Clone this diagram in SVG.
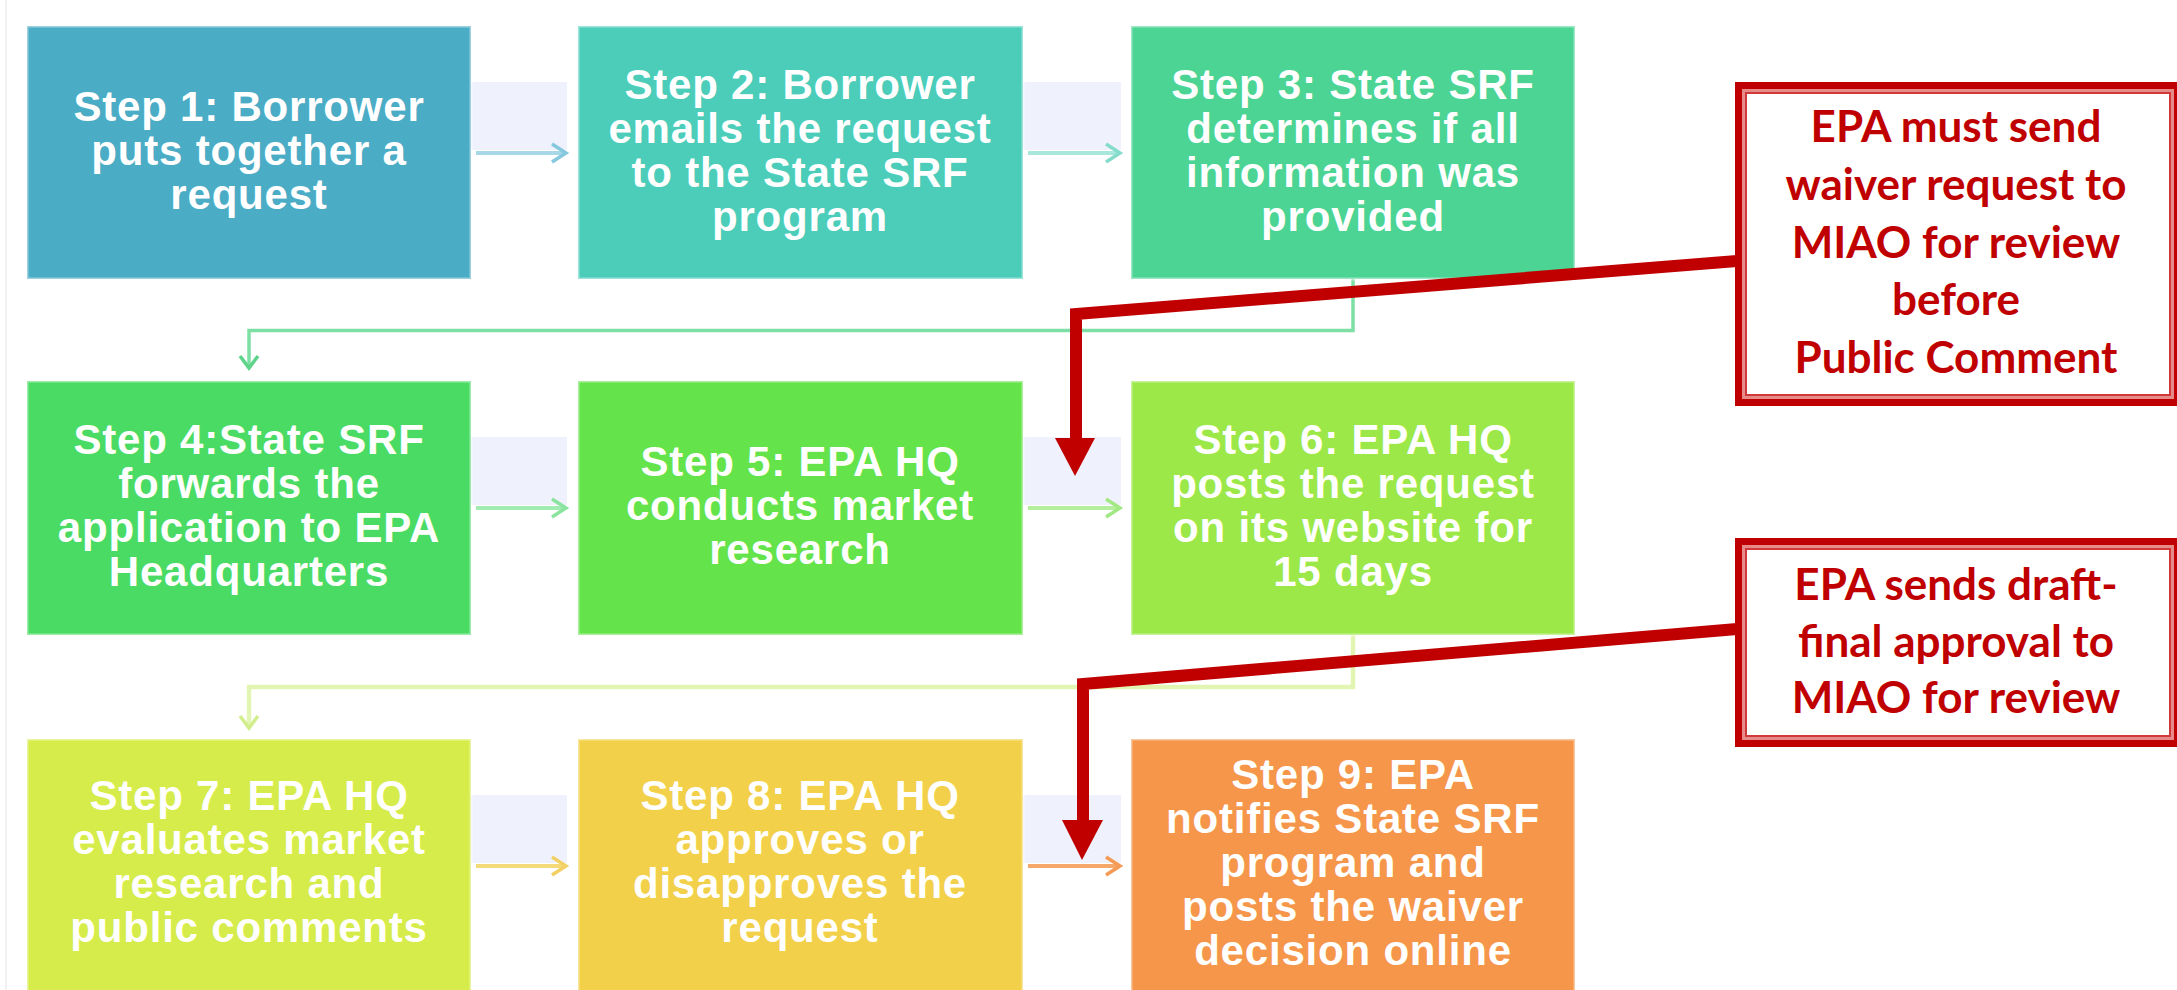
<svg xmlns="http://www.w3.org/2000/svg" width="2177" height="990" viewBox="0 0 2177 990">
<style>
.box{stroke:rgba(255,255,255,0.45);stroke-width:3}
.st{font-family:"Liberation Sans",Arial,sans-serif;font-weight:bold;font-size:42px;letter-spacing:0.8px;fill:#ffffff;text-anchor:middle}
.lav{fill:#EFF2FD}
.ln{fill:none;stroke-width:4;stroke-linecap:butt}
.chev{fill:none;stroke-width:3.5;stroke-linejoin:miter}
.el{fill:none;stroke-linejoin:miter}
.rb1{fill:#ffffff;stroke:#C00000;stroke-width:7}
.rb2{fill:none;stroke:#E68A8A;stroke-width:3}
.rb3{fill:none;stroke:#D03A3A;stroke-width:2}
.rt{font-family:Lato,"Open Sans","Liberation Sans",sans-serif;font-weight:bold;font-size:44px;fill:#C00000;text-anchor:middle}
.rl{fill:none;stroke:#C00000;stroke-width:12;stroke-linejoin:miter}
.rh{fill:#C00000}
</style>
<line x1="6" y1="0" x2="6" y2="990" stroke="#EEEEEE" stroke-width="1.5"/>
<g id="connectors">
  <rect class="lav" x="471" y="82" width="96" height="68"/>
  <rect class="lav" x="1023" y="82" width="98" height="68"/>
  <rect class="lav" x="471" y="437" width="96" height="68"/>
  <rect class="lav" x="1023" y="437" width="98" height="68"/>
  <rect class="lav" x="471" y="795" width="96" height="68"/>
  <rect class="lav" x="1023" y="795" width="98" height="68"/>
  <line class="ln" x1="476" y1="153" x2="566" y2="153" stroke="#A8D8E8"/>
  <path class="chev" d="M552,144 L566,153 L552,162" stroke="#86C8DE"/>
  <line class="ln" x1="1028" y1="153" x2="1120" y2="153" stroke="#A8E8DC"/>
  <path class="chev" d="M1106,144 L1120,153 L1106,162" stroke="#86DCCB"/>
  <line class="ln" x1="476" y1="508" x2="566" y2="508" stroke="#A2EBB2"/>
  <path class="chev" d="M552,499 L566,508 L552,517" stroke="#8AE39E"/>
  <line class="ln" x1="1028" y1="508" x2="1120" y2="508" stroke="#B5EE9C"/>
  <path class="chev" d="M1106,499 L1120,508 L1106,517" stroke="#A2E884"/>
  <line class="ln" x1="476" y1="866" x2="566" y2="866" stroke="#F5DA7A"/>
  <path class="chev" d="M552,857 L566,866 L552,875" stroke="#F2D064"/>
  <line class="ln" x1="1028" y1="866" x2="1120" y2="866" stroke="#F6A86A"/>
  <path class="chev" d="M1106,857 L1120,866 L1106,875" stroke="#F59A55"/>
  <path class="el" d="M1353,279 V330.5 H249 V367" stroke="#7EDFA4" stroke-width="3.5"/>
  <path class="chev" d="M240,356 L249,368 L258,356" stroke="#5ED48A"/>
  <path class="el" d="M1353,635 V687 H249 V727" stroke="#E2F5B2" stroke-width="4.5"/>
  <path class="chev" d="M240,716 L249,728 L258,716" stroke="#D2EE8C"/>
</g>
<g id="step1"><rect class="box" x="27" y="26" width="444" height="253" fill="#4BACC6"/>
  <text class="st" x="249" y="121">Step 1: Borrower</text><text class="st" x="249" y="165">puts together a</text><text class="st" x="249" y="209">request</text></g>
<g id="step2"><rect class="box" x="578" y="26" width="445" height="253" fill="#4BCDBA"/>
  <text class="st" x="800" y="99">Step 2: Borrower</text><text class="st" x="800" y="143">emails the request</text><text class="st" x="800" y="187">to the State SRF</text><text class="st" x="800" y="231">program</text></g>
<g id="step3"><rect class="box" x="1131" y="26" width="444" height="253" fill="#4BD494"/>
  <text class="st" x="1353" y="99">Step 3: State SRF</text><text class="st" x="1353" y="143">determines if all</text><text class="st" x="1353" y="187">information was</text><text class="st" x="1353" y="231">provided</text></g>
<g id="step4"><rect class="box" x="27" y="381" width="444" height="254" fill="#4ADB64"/>
  <text class="st" x="249" y="454">Step 4:State SRF</text><text class="st" x="249" y="498">forwards the</text><text class="st" x="249" y="542">application to EPA</text><text class="st" x="249" y="586">Headquarters</text></g>
<g id="step5"><rect class="box" x="578" y="381" width="445" height="254" fill="#64E34A"/>
  <text class="st" x="800" y="476">Step 5: EPA HQ</text><text class="st" x="800" y="520">conducts market</text><text class="st" x="800" y="564">research</text></g>
<g id="step6"><rect class="box" x="1131" y="381" width="444" height="254" fill="#9BE848"/>
  <text class="st" x="1353" y="454">Step 6: EPA HQ</text><text class="st" x="1353" y="498">posts the request</text><text class="st" x="1353" y="542">on its website for</text><text class="st" x="1353" y="586">15 days</text></g>
<g id="step7"><rect class="box" x="27" y="739" width="444" height="253" fill="#D6EC4A"/>
  <text class="st" x="249" y="810">Step 7: EPA HQ</text><text class="st" x="249" y="854">evaluates market</text><text class="st" x="249" y="898">research and</text><text class="st" x="249" y="942">public comments</text></g>
<g id="step8"><rect class="box" x="578" y="739" width="445" height="253" fill="#F2D04A"/>
  <text class="st" x="800" y="810">Step 8: EPA HQ</text><text class="st" x="800" y="854">approves or</text><text class="st" x="800" y="898">disapproves the</text><text class="st" x="800" y="942">request</text></g>
<g id="step9"><rect class="box" x="1131" y="739" width="444" height="253" fill="#F5964A"/>
  <text class="st" x="1353" y="789">Step 9: EPA</text><text class="st" x="1353" y="833">notifies State SRF</text><text class="st" x="1353" y="877">program and</text><text class="st" x="1353" y="921">posts the waiver</text><text class="st" x="1353" y="965">decision online</text></g>
<g id="note1">
  <rect class="rb1" x="1738.5" y="85.5" width="439" height="317"/>
  <rect class="rb2" x="1743.5" y="90.5" width="429" height="307"/>
  <rect class="rb3" x="1746" y="93" width="424" height="302"/>
  <text class="rt" x="1956" y="142">EPA must send</text><text class="rt" x="1956" y="200">waiver request to</text><text class="rt" x="1956" y="258">MIAO for review</text><text class="rt" x="1956" y="315">before</text><text class="rt" x="1956" y="373">Public Comment</text>
</g>
<g id="note2">
  <rect class="rb1" x="1738.5" y="541.5" width="439" height="202"/>
  <rect class="rb2" x="1743.5" y="546.5" width="429" height="192"/>
  <rect class="rb3" x="1746" y="549" width="424" height="187"/>
  <text class="rt" x="1956" y="600">EPA sends draft-</text><text class="rt" x="1956" y="657">final approval to</text><text class="rt" x="1956" y="713">MIAO for review</text>
</g>
<g id="red-connectors">
  <polyline class="rl" points="1737,261 1076,314 1076,440"/>
  <polygon class="rh" points="1055,438 1095,438 1075,476"/>
  <polyline class="rl" points="1737,629 1083,684 1083,822"/>
  <polygon class="rh" points="1062,820 1103,820 1082,860"/>
</g>
</svg>
